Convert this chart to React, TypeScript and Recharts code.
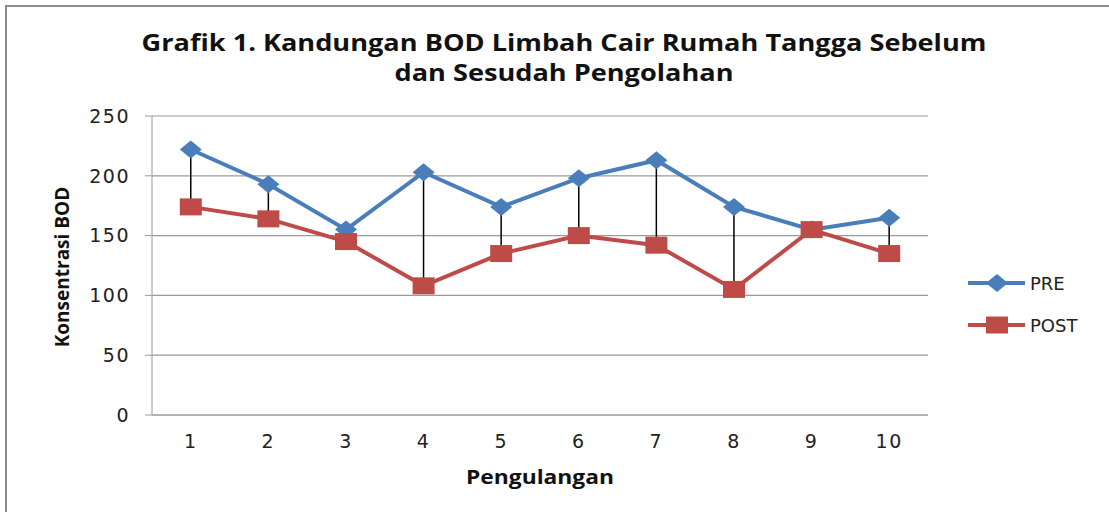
import React from 'react';
import { ComposedChart, Line, Bar, XAxis, YAxis, CartesianGrid, Legend } from 'recharts';

// Kandungan BOD per pengulangan
const categories = ['1', '2', '3', '4', '5', '6', '7', '8', '9', '10'];
const preValues = [222, 193, 155, 203, 174, 198, 213, 174, 155, 165];
const postValues = [174, 164, 145, 108, 135, 150, 142, 105, 155, 135];
const yTicks = [0, 50, 100, 150, 200, 250];

const PRE_COLOR = '#4A7EBB';
const POST_COLOR = '#BE4B48';
const TICK_FONT = '"DejaVu Sans", Verdana, sans-serif';
const LABEL_FONT = '"Open Sans", "Noto Sans", sans-serif';

const data = categories.map((name, i) => ({
  name,
  pre: preValues[i],
  post: postValues[i],
}));

const DiamondDot = (props: any) => {
  const { cx, cy } = props;
  if (cx == null || cy == null) return null;
  return (
    <path
      d={`M${cx - 11},${cy} L${cx},${cy - 9} L${cx + 11},${cy} L${cx},${cy + 9} Z`}
      fill={PRE_COLOR}
    />
  );
};

const SquareDot = (props: any) => {
  const { cx, cy } = props;
  if (cx == null || cy == null) return null;
  return <rect x={cx - 11} y={cy - 8.5} width={22} height={17} fill={POST_COLOR} />;
};

const LegendBox = () => (
  <div style={{ fontFamily: TICK_FONT, fontSize: 18, color: '#222' }}>
    <div style={{ display: 'flex', alignItems: 'center', height: 20, marginBottom: 22 }}>
      <svg width={60} height={20}>
        <line x1={0} y1={10} x2={57} y2={10} stroke={PRE_COLOR} strokeWidth={4} />
        <path d="M18,10 L29,1 L40,10 L29,19 Z" fill={PRE_COLOR} />
      </svg>
      <span style={{ marginLeft: 2 }}>PRE</span>
    </div>
    <div style={{ display: 'flex', alignItems: 'center', height: 20 }}>
      <svg width={60} height={20}>
        <line x1={0} y1={10} x2={57} y2={10} stroke={POST_COLOR} strokeWidth={4} />
        <rect x={18} y={1.5} width={22} height={17} fill={POST_COLOR} />
      </svg>
      <span style={{ marginLeft: 2 }}>POST</span>
    </div>
  </div>
);

export default function App() {
  return (
    <div
      style={{
        position: 'absolute',
        left: 0,
        top: 0,
        width: 1109,
        height: 512,
        background: '#fff',
        overflow: 'hidden',
      }}
    >
      <div
        style={{
          position: 'absolute',
          left: 5,
          top: 5,
          width: 1120,
          height: 520,
          border: '2px solid #8c8c8c',
        }}
      />
      <div
        style={{
          position: 'absolute',
          left: 564,
          top: 27,
          transform: 'translateX(-50%) scaleX(1.18)',
          whiteSpace: 'nowrap',
          textAlign: 'center',
          fontFamily: LABEL_FONT,
          fontWeight: 700,
          fontSize: 23,
          lineHeight: '30px',
          color: '#111',
        }}
      >
        Grafik 1. Kandungan BOD Limbah Cair Rumah Tangga Sebelum
        <br />
        dan Sesudah Pengolahan
      </div>
      <div
        style={{
          position: 'absolute',
          left: 62,
          top: 267,
          transform: 'translate(-50%, -50%) rotate(-90deg)',
          whiteSpace: 'nowrap',
          fontFamily: LABEL_FONT,
          fontWeight: 700,
          fontSize: 19,
          color: '#111',
        }}
      >
        Konsentrasi BOD
      </div>
      <div
        style={{
          position: 'absolute',
          left: 540,
          top: 477,
          transform: 'translate(-50%, -50%) scaleX(1.2)',
          whiteSpace: 'nowrap',
          fontFamily: LABEL_FONT,
          fontWeight: 700,
          fontSize: 19,
          color: '#111',
        }}
      >
        Pengulangan
      </div>
      <div style={{ position: 'absolute', left: 0, top: 0 }}>
        <ComposedChart
          width={1109}
          height={512}
          data={data}
          margin={{ top: 116, right: 181, bottom: 67, left: 0 }}
        >
          <CartesianGrid vertical={false} stroke="#9a9a9a" strokeWidth={1.2} />
          <XAxis
            dataKey="name"
            height={30}
            axisLine={{ stroke: '#9a9a9a' }}
            tickLine={false}
            tickMargin={14}
            tick={{ fill: '#222', fontSize: 19, fontFamily: TICK_FONT, letterSpacing: 1.5 }}
          />
          <YAxis
            width={152}
            domain={[0, 250]}
            ticks={yTicks}
            interval={0}
            axisLine={{ stroke: '#9a9a9a' }}
            tickLine={{ stroke: '#9a9a9a' }}
            tickSize={7}
            tickMargin={15}
            tick={{ fill: '#222', fontSize: 19, fontFamily: TICK_FONT, letterSpacing: 1.5 }}
          />
          <Legend
            layout="horizontal"
            align="center"
            verticalAlign="middle"
            wrapperStyle={{ left: 968, top: 273, width: 140 }}
            content={<LegendBox />}
          />
          <Line
            dataKey="pre"
            name="PRE"
            stroke={PRE_COLOR}
            strokeWidth={4}
            dot={<DiamondDot />}
            activeDot={false}
            isAnimationActive={false}
          />
          <Line
            dataKey="post"
            name="POST"
            stroke={POST_COLOR}
            strokeWidth={4}
            dot={<SquareDot />}
            activeDot={false}
            isAnimationActive={false}
          />
          <Bar
            dataKey={(d: any) => [d.post, d.pre]}
            name="range"
            barSize={1.5}
            fill="#000"
            legendType="none"
            isAnimationActive={false}
          />
        </ComposedChart>
      </div>
    </div>
  );
}
